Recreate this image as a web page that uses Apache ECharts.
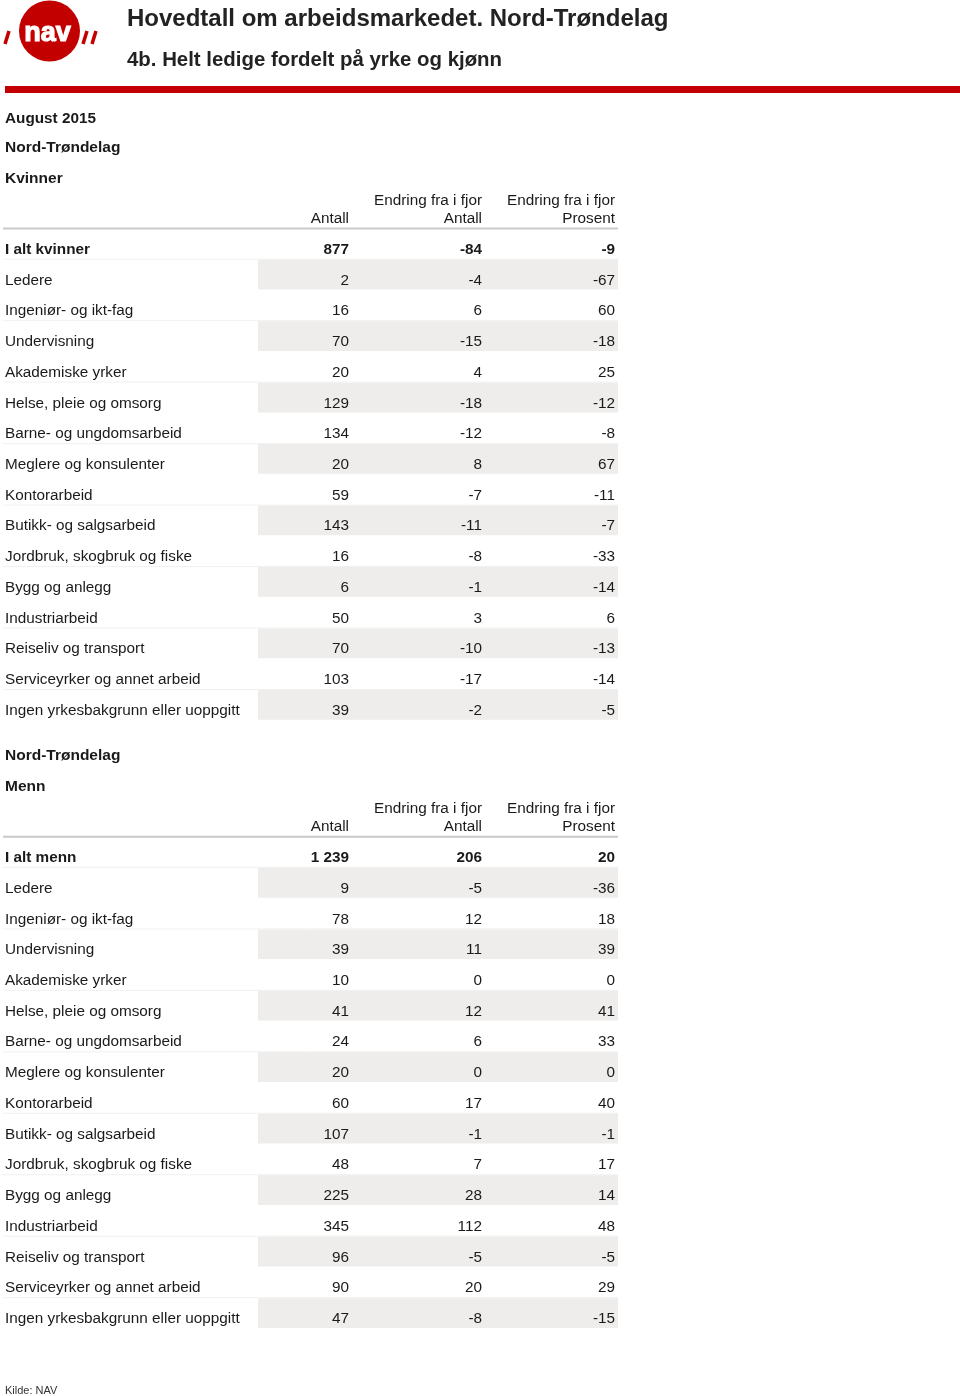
<!DOCTYPE html>
<html><head><meta charset="utf-8">
<script src="https://cdn.jsdelivr.net/npm/echarts@6/dist/echarts.min.js"></script>
<style>html,body{margin:0;padding:0;background:#fff}#c{width:960px;height:1396px}</style>
</head><body><div id="c"></div>
<script>
// ---- data ----
const title = 'Hovedtall om arbeidsmarkedet. Nord-Trøndelag';
const subtitle = '4b. Helt ledige fordelt på yrke og kjønn';
const period = 'August 2015';
const region = 'Nord-Trøndelag';
const source = 'Kilde: NAV';
const colHeaders = [['Antall'], ['Endring fra i fjor', 'Antall'], ['Endring fra i fjor', 'Prosent']];
const occupations = ['Ledere', 'Ingeniør- og ikt-fag', 'Undervisning', 'Akademiske yrker', 'Helse, pleie og omsorg',
  'Barne- og ungdomsarbeid', 'Meglere og konsulenter', 'Kontorarbeid', 'Butikk- og salgsarbeid',
  'Jordbruk, skogbruk og fiske', 'Bygg og anlegg', 'Industriarbeid', 'Reiseliv og transport',
  'Serviceyrker og annet arbeid', 'Ingen yrkesbakgrunn eller uoppgitt'];
const kvinnerTotal = [877, -84, -9];
const kvinnerAntall = [2, 16, 70, 20, 129, 134, 20, 59, 143, 16, 6, 50, 70, 103, 39];
const kvinnerEndring = [-4, 6, -15, 4, -18, -12, 8, -7, -11, -8, -1, 3, -10, -17, -2];
const kvinnerProsent = [-67, 60, -18, 25, -12, -8, 67, -11, -7, -33, -14, 6, -13, -14, -5];
const mennTotal = [1239, 206, 20];
const mennAntall = [9, 78, 39, 10, 41, 24, 20, 60, 107, 48, 225, 345, 96, 90, 47];
const mennEndring = [-5, 12, 11, 0, 12, 6, 0, 17, -1, 7, 28, 112, -5, 20, -8];
const mennProsent = [-36, 18, 39, 0, 41, 33, 0, 40, -1, 17, 14, 48, -5, 29, -15];

// ---- layout ----
const FONT = '"Liberation Sans", Arial, sans-serif';
const TXT = '#1a1a1a';
const BODY = 15.3;
const COL = {label: 5, antall: 349, endr: 482, pros: 615, shadeL: 258, shadeR: 618, lineL: 3};
const ROWH = 30.73;

function fmt(n) {
  const s = Math.abs(n).toString().replace(/\B(?=(\d{3})+(?!\d))/g, ' ');
  return (n < 0 ? '-' : '') + s;
}

function buildSection(total, antall, endring, prosent, totalLabel) {
  const labels = [totalLabel].concat(occupations);
  const data = labels.map((l, i) => i === 0
    ? [l, total[0], total[1], total[2]]
    : [l, antall[i - 1], endring[i - 1], prosent[i - 1]]);
  return {labels, data};
}
const sections = [
  Object.assign(buildSection(kvinnerTotal, kvinnerAntall, kvinnerEndring, kvinnerProsent, 'I alt kvinner'), {heads: [region, 'Kvinner'], top: 228.5}),
  Object.assign(buildSection(mennTotal, mennAntall, mennEndring, mennProsent, 'I alt menn'), {heads: [region, 'Menn'], top: 836.7})
];

function txt(text, x, y, align, bold, size, color) {
  return {type: 'text', style: {text: text, x: x, y: y, textAlign: align, textVerticalAlign: 'middle',
    font: (bold ? 'bold ' : '') + (size || BODY) + 'px ' + FONT, fill: color || TXT}};
}

function makeRender(sec) {
  return function (params, api) {
    const i = params.dataIndex;
    const yc = api.coord([0, i])[1];
    const h = api.size([0, 1])[1];
    const X = v => api.coord([v, i])[0];
    const d = sec.data[i];
    const ch = [];
    if (i % 2 === 1) {
      ch.push({type: 'rect', shape: {x: X(COL.shadeL), y: yc - h / 2 + 0.5, width: X(COL.shadeR) - X(COL.shadeL), height: h - 1},
        style: {fill: '#eeedeb'}});
    } else {
      ch.push({type: 'line', shape: {x1: X(COL.lineL), y1: yc + h / 2, x2: X(COL.shadeR), y2: yc + h / 2},
        style: {stroke: '#f1f1f1', lineWidth: 1}});
    }
    const ty = yc + 5.8;
    const b = i === 0;
    ch.push(txt(d[0], X(COL.label), ty, 'left', b));
    ch.push(txt(fmt(d[1]), X(COL.antall), ty, 'right', b));
    ch.push(txt(fmt(d[2]), X(COL.endr), ty, 'right', b));
    ch.push(txt(fmt(d[3]), X(COL.pros), ty, 'right', b));
    if (i === 0) {
      const top = yc - h / 2;
      ch.push({type: 'line', shape: {x1: X(COL.lineL), y1: top, x2: X(COL.shadeR), y2: top},
        style: {stroke: '#c9c9c9', lineWidth: 2}});
      const xs = [COL.antall, COL.endr, COL.pros];
      colHeaders.forEach((lines, k) => {
        lines.slice().reverse().forEach((line, j) => {
          ch.push(txt(line, X(xs[k]), top - 9.5 - j * 18, 'right', false));
        });
      });
      ch.push(txt(sec.heads[0], X(COL.label), top - 80.5, 'left', true, 15.5));
      ch.push(txt(sec.heads[1], X(COL.label), top - 49.5, 'left', true, 15.5));
    }
    return {type: 'group', children: ch};
  };
}

const grids = sections.map(s => ({left: 0, width: 960, top: s.top, height: ROWH * s.labels.length, containLabel: false}));
const xAxes = sections.map((s, k) => ({type: 'value', gridIndex: k, min: 0, max: 960, show: false}));
const yAxes = sections.map((s, k) => ({type: 'category', gridIndex: k, data: s.labels, inverse: true, show: false}));
const series = sections.map((s, k) => ({
  type: 'custom', xAxisIndex: k, yAxisIndex: k, clip: false, silent: true,
  encode: {x: 1, y: 0}, data: s.data, renderItem: makeRender(s)
}));

const RED = '#c30000';
const chart = echarts.init(document.getElementById('c'), null, {renderer: 'canvas'});
chart.setOption({
  animation: false,
  backgroundColor: '#fff',
  grid: grids, xAxis: xAxes, yAxis: yAxes, series: series,
  graphic: [
    // NAV logo
    {type: 'circle', shape: {cx: 49.5, cy: 31, r: 30.5}, style: {fill: RED}},
    {type: 'text', style: {text: 'nav', x: 47.5, y: 34, textAlign: 'center', textVerticalAlign: 'middle',
      font: 'bold 27px ' + FONT, fill: '#fff', stroke: '#fff', lineWidth: 1.2}},
    {type: 'line', shape: {x1: 5, y1: 44, x2: 9, y2: 31}, style: {stroke: RED, lineWidth: 3.5}},
    {type: 'line', shape: {x1: 83, y1: 44, x2: 87, y2: 31}, style: {stroke: RED, lineWidth: 3.5}},
    {type: 'line', shape: {x1: 92, y1: 44, x2: 96, y2: 31}, style: {stroke: RED, lineWidth: 3.5}},
    {type: 'text', style: {text: title, x: 127, y: 19, textAlign: 'left', textVerticalAlign: 'middle',
      font: 'bold 24px ' + FONT, fill: '#222'}},
    {type: 'text', style: {text: subtitle, x: 127, y: 60, textAlign: 'left', textVerticalAlign: 'middle',
      font: 'bold 20.4px ' + FONT, fill: '#222'}},
    {type: 'rect', shape: {x: 5, y: 86, width: 955, height: 7}, style: {fill: RED}},
    {type: 'text', style: {text: period, x: 5, y: 118.5, textAlign: 'left', textVerticalAlign: 'middle',
      font: 'bold 15.3px ' + FONT, fill: TXT}},
    {type: 'text', style: {text: source, x: 5, y: 1391, textAlign: 'left', textVerticalAlign: 'middle',
      font: '11px ' + FONT, fill: '#333'}}
  ]
});
</script></body></html>
